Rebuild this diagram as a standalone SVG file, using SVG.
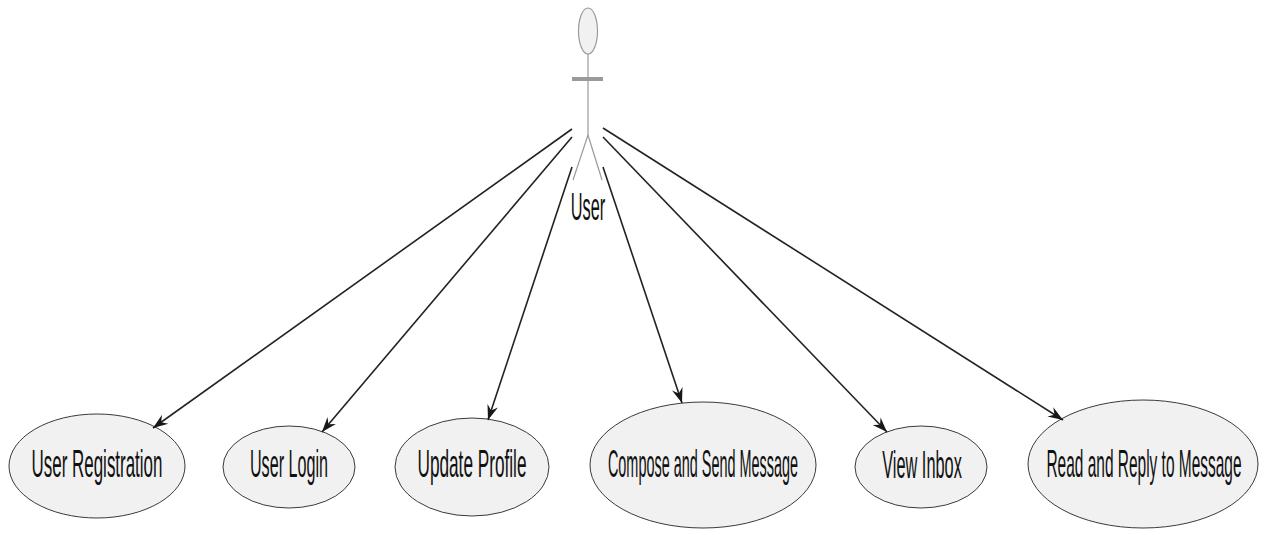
<svg xmlns="http://www.w3.org/2000/svg" width="1264" height="535" viewBox="0 0 1264 535">
<style>
.uc ellipse{fill:#f1f1f1;stroke:#3a3a3a;stroke-width:1}
.uc text,.lbl{font-family:"Liberation Sans",Arial,sans-serif;font-size:38px;fill:#111;text-anchor:middle}
.conn line{stroke:#222;stroke-width:1.6;marker-end:url(#arr)}
.actor{stroke:#9a9a9a;fill:none}
</style>
<defs>
<marker id="arr" markerUnits="userSpaceOnUse" markerWidth="20" markerHeight="14" viewBox="-16 -7 17 14" refX="0" refY="0" orient="auto">
<path d="M0,0 L-15,-5.5 L-10,0 L-15,5.5 Z" fill="#181818"/>
</marker>
</defs>
<rect width="1264" height="535" fill="#ffffff"/>
<g id="actor-user">
<ellipse cx="588" cy="31" rx="9.5" ry="23" fill="#f1f1f1" stroke="#9a9a9a" stroke-width="1.2"/>
<line class="actor" x1="588" y1="54" x2="588" y2="135" stroke-width="1.2"/>
<line class="actor" x1="572" y1="79" x2="603" y2="79" stroke-width="4" stroke="#b4b4b4"/>
<line class="actor" x1="588" y1="135" x2="573" y2="180" stroke-width="1.2"/>
<line class="actor" x1="588" y1="135" x2="602" y2="180" stroke-width="1.2"/>
<text class="lbl" transform="translate(588,220) scale(0.43,1)" font-size="33">User</text>
</g>
<g id="uc-registration" class="uc">
<ellipse cx="97" cy="466" rx="88" ry="52"/>
<text transform="translate(97,477) scale(0.446,1)">User Registration</text>
</g>
<g id="uc-login" class="uc">
<ellipse cx="289" cy="467" rx="66" ry="41"/>
<text transform="translate(289,477) scale(0.425,1)">User Login</text>
</g>
<g id="uc-profile" class="uc">
<ellipse cx="472" cy="467" rx="77" ry="49"/>
<text transform="translate(472,477) scale(0.453,1)">Update Profile</text>
</g>
<g id="uc-compose" class="uc">
<ellipse cx="703" cy="465" rx="113" ry="63"/>
<text transform="translate(703,477) scale(0.38,1)">Compose and Send Message</text>
</g>
<g id="uc-inbox" class="uc">
<ellipse cx="921" cy="467" rx="66" ry="41"/>
<text transform="translate(922,478) scale(0.43,1)">View Inbox</text>
</g>
<g id="uc-reply" class="uc">
<ellipse cx="1143" cy="464" rx="115" ry="64"/>
<text transform="translate(1144,477) scale(0.407,1)">Read and Reply to Message</text>
</g>
<g id="connectors" class="conn">
<line x1="572" y1="129" x2="153" y2="428"/>
<line x1="572" y1="137" x2="322" y2="432"/>
<line x1="572" y1="167" x2="488" y2="420"/>
<line x1="603" y1="167" x2="682" y2="403"/>
<line x1="603" y1="137" x2="887" y2="432"/>
<line x1="603" y1="128" x2="1063" y2="420"/>
</g>
</svg>
